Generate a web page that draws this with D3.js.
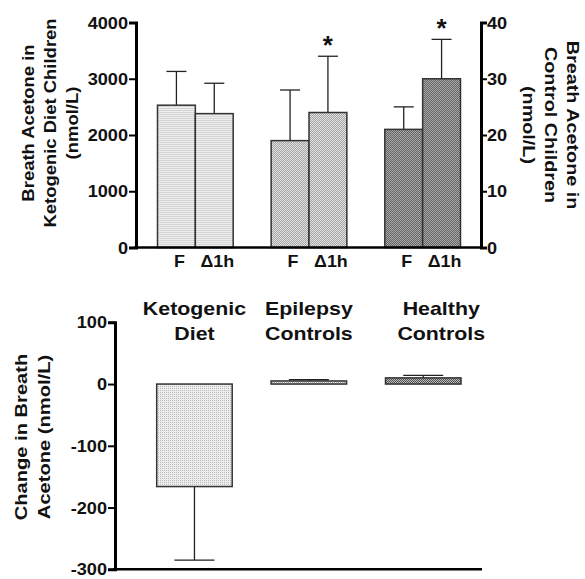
<!DOCTYPE html>
<html>
<head>
<meta charset="utf-8">
<script src="https://cdn.jsdelivr.net/npm/d3@7"></script>
<style>
  body { margin: 0; background: #fff; }
  text { font-family: "Liberation Sans", Arial, sans-serif; font-weight: bold; fill: #111; }
</style>
</head>
<body>
<div id="chart"></div>
<script>
// breath acetone, fasting (F) vs 1 h after (Δ1h)
var groups = ['Ketogenic Diet', 'Epilepsy Controls', 'Healthy Controls'];
var times = ['F', '\u03941h'];
var ketoMeans = [2530, 2380];      // nmol/L, left axis
var ketoSD = [600, 540];
var epilepsyMeans = [19, 24];      // nmol/L, right axis
var epilepsySD = [9, 10];
var healthyMeans = [21, 30];
var healthySD = [4, 7];
var starred = [[false, false], [false, true], [false, true]];

// change in breath acetone
var changeLabels = [['Ketogenic', 'Diet'], ['Epilepsy', 'Controls'], ['Healthy', 'Controls']];
var changeMeans = [-166, 5, 10];
var changeSD = [119, 2, 4];

var leftTicks = [0, 1000, 2000, 3000, 4000];
var rightTicks = [0, 10, 20, 30, 40];
var changeTicks = [-300, -200, -100, 0, 100];

var width = 585, height = 579;

var svg = d3.select('#chart').append('svg')
    .attr('width', width)
    .attr('height', height);

// stipple fills
var defs = svg.append('defs');
function stipple(id, a, b, c, d) {
    var p = defs.append('pattern')
        .attr('id', id)
        .attr('patternUnits', 'userSpaceOnUse')
        .attr('width', 2).attr('height', 2);
    [[0, 0, a], [1, 0, b], [0, 1, c], [1, 1, d]].forEach(function(q) {
        p.append('rect').attr('x', q[0]).attr('y', q[1])
            .attr('width', 1).attr('height', 1).attr('fill', q[2]);
    });
}
stipple('fill0', '#b8b8b8', '#f0f0f0', '#f0f0f0', '#ececec');
stipple('fill1', '#9a9a9a', '#ececec', '#ececec', '#9a9a9a');
stipple('fill2', '#505050', '#bdbdbd', '#bdbdbd', '#505050');

// stretched text helper (the figure type is wide)
function label(g, x, y, str, size, sx, rot, anchor) {
    return g.append('text')
        .attr('transform', 'translate(' + x + ',' + y + ') rotate(' + (rot || 0) + ') scale(' + sx + ',1)')
        .attr('text-anchor', anchor || 'middle')
        .style('font-size', size + 'px')
        .text(str);
}

function styleAxis(g, sw) {
    g.select('.domain').attr('stroke', '#000').attr('stroke-width', sw);
    g.selectAll('.tick line').attr('stroke', '#000').attr('stroke-width', 2);
    g.selectAll('.tick text').remove();
}

// ---------------- top chart ----------------
var top0 = 247.5, top1 = 22.5;
var yL = d3.scaleLinear().domain([0, 4000]).range([top0, top1]);
var yR = d3.scaleLinear().domain([0, 40]).range([top0, top1]);
var xG = d3.scaleBand().domain(groups).range([157.5, 460.5]).paddingInner(0.334);
var xT = d3.scaleBand().domain(times).range([0, xG.bandwidth()]);

var topChart = svg.append('g');

var rows = [
    { means: ketoMeans, sd: ketoSD, y: yL },
    { means: epilepsyMeans, sd: epilepsySD, y: yR },
    { means: healthyMeans, sd: healthySD, y: yR }
];

rows.forEach(function(r, gi) {
    var g = topChart.append('g')
        .attr('transform', 'translate(' + xG(groups[gi]) + ',0)');
    times.forEach(function(t, ti) {
        var cx = xT(t) + xT.bandwidth() / 2;
        var yTop = r.y(r.means[ti]);
        var yErr = r.y(r.means[ti] + r.sd[ti]);
        g.append('line')
            .attr('x1', cx).attr('x2', cx)
            .attr('y1', yTop).attr('y2', yErr)
            .attr('stroke', '#222').attr('stroke-width', 1.3);
        g.append('line')
            .attr('x1', cx - 10).attr('x2', cx + 10)
            .attr('y1', yErr).attr('y2', yErr)
            .attr('stroke', '#222').attr('stroke-width', 1.3);
        g.append('rect')
            .attr('x', xT(t))
            .attr('y', yTop)
            .attr('width', xT.bandwidth())
            .attr('height', top0 - yTop)
            .attr('fill', 'url(#fill' + gi + ')')
            .attr('stroke', '#333').attr('stroke-width', 1.5);
        if (starred[gi][ti]) {
            label(g, cx, yErr - 2, '*', 26, 1, 0);
        }
        label(g, cx + 3, 267, t, 16, 1.12, 0);
    });
});

var axL = topChart.append('g')
    .attr('transform', 'translate(136,0)')
    .call(d3.axisLeft(yL).tickValues(leftTicks).tickSizeOuter(0).tickSize(7));
styleAxis(axL, 3);
leftTicks.forEach(function(v) {
    label(topChart, 128, yL(v) + 6, String(v), 16.5, 1.1, 0, 'end');
});

var axR = topChart.append('g')
    .attr('transform', 'translate(481,0)')
    .call(d3.axisRight(yR).tickValues(rightTicks).tickSizeOuter(0).tickSize(6));
styleAxis(axR, 3);
rightTicks.forEach(function(v) {
    label(topChart, 487, yR(v) + 6, String(v), 16.5, 1.1, 0, 'start');
});

topChart.append('line')
    .attr('x1', 134).attr('x2', 482)
    .attr('y1', top0).attr('y2', top0)
    .attr('stroke', '#000').attr('stroke-width', 2.5);

['Breath Acetone in', 'Ketogenic Diet Children', '(nmol/L)'].forEach(function(s, i) {
    label(topChart, 34 + i * 22, 123, s, 16.5, 1.12, -90);
});
['Breath Acetone in', 'Control Children', '(nmol/L)'].forEach(function(s, i) {
    label(topChart, 567 - i * 22, 125, s, 16.5, 1.2, 90);
});

// ---------------- bottom chart ----------------
var yC = d3.scaleLinear().domain([-300, 100]).range([569.3, 322.3]);
var xC = d3.scaleBand().domain(groups).range([156.7, 461]).paddingInner(0.34);
var labelDx = [0, 0, 18];

var botChart = svg.append('g');

groups.forEach(function(name, i) {
    var x0 = xC(name), w = xC.bandwidth(), cx = x0 + w / 2;
    var m = changeMeans[i], e = m < 0 ? m - changeSD[i] : m + changeSD[i];
    botChart.append('line')
        .attr('x1', cx).attr('x2', cx)
        .attr('y1', yC(m)).attr('y2', yC(e))
        .attr('stroke', '#222').attr('stroke-width', 1.3);
    botChart.append('line')
        .attr('x1', cx - 20).attr('x2', cx + 20)
        .attr('y1', yC(e)).attr('y2', yC(e))
        .attr('stroke', '#222').attr('stroke-width', 1.3);
    botChart.append('rect')
        .attr('x', x0)
        .attr('y', yC(Math.max(0, m)))
        .attr('width', w)
        .attr('height', Math.abs(yC(m) - yC(0)))
        .attr('fill', 'url(#fill' + i + ')')
        .attr('stroke', '#333').attr('stroke-width', 1.5);
    changeLabels[i].forEach(function(s, j) {
        label(botChart, cx + labelDx[i], 315 + j * 25, s, 17.5, 1.22, 0);
    });
});

var axC = botChart.append('g')
    .attr('transform', 'translate(115,0)')
    .call(d3.axisLeft(yC).tickValues(changeTicks).tickSizeOuter(0).tickSize(7));
styleAxis(axC, 3);
changeTicks.forEach(function(v) {
    label(botChart, 107, yC(v) + 6, String(v), 16.5, 1.1, 0, 'end');
});

botChart.append('line')
    .attr('x1', 113).attr('x2', 482)
    .attr('y1', yC(-300)).attr('y2', yC(-300))
    .attr('stroke', '#000').attr('stroke-width', 2.5);

['Change in Breath', 'Acetone (nmol/L)'].forEach(function(s, i) {
    label(botChart, 27 + i * 23, 437, s, 16.5, 1.22, -90);
});
</script>
</body>
</html>
